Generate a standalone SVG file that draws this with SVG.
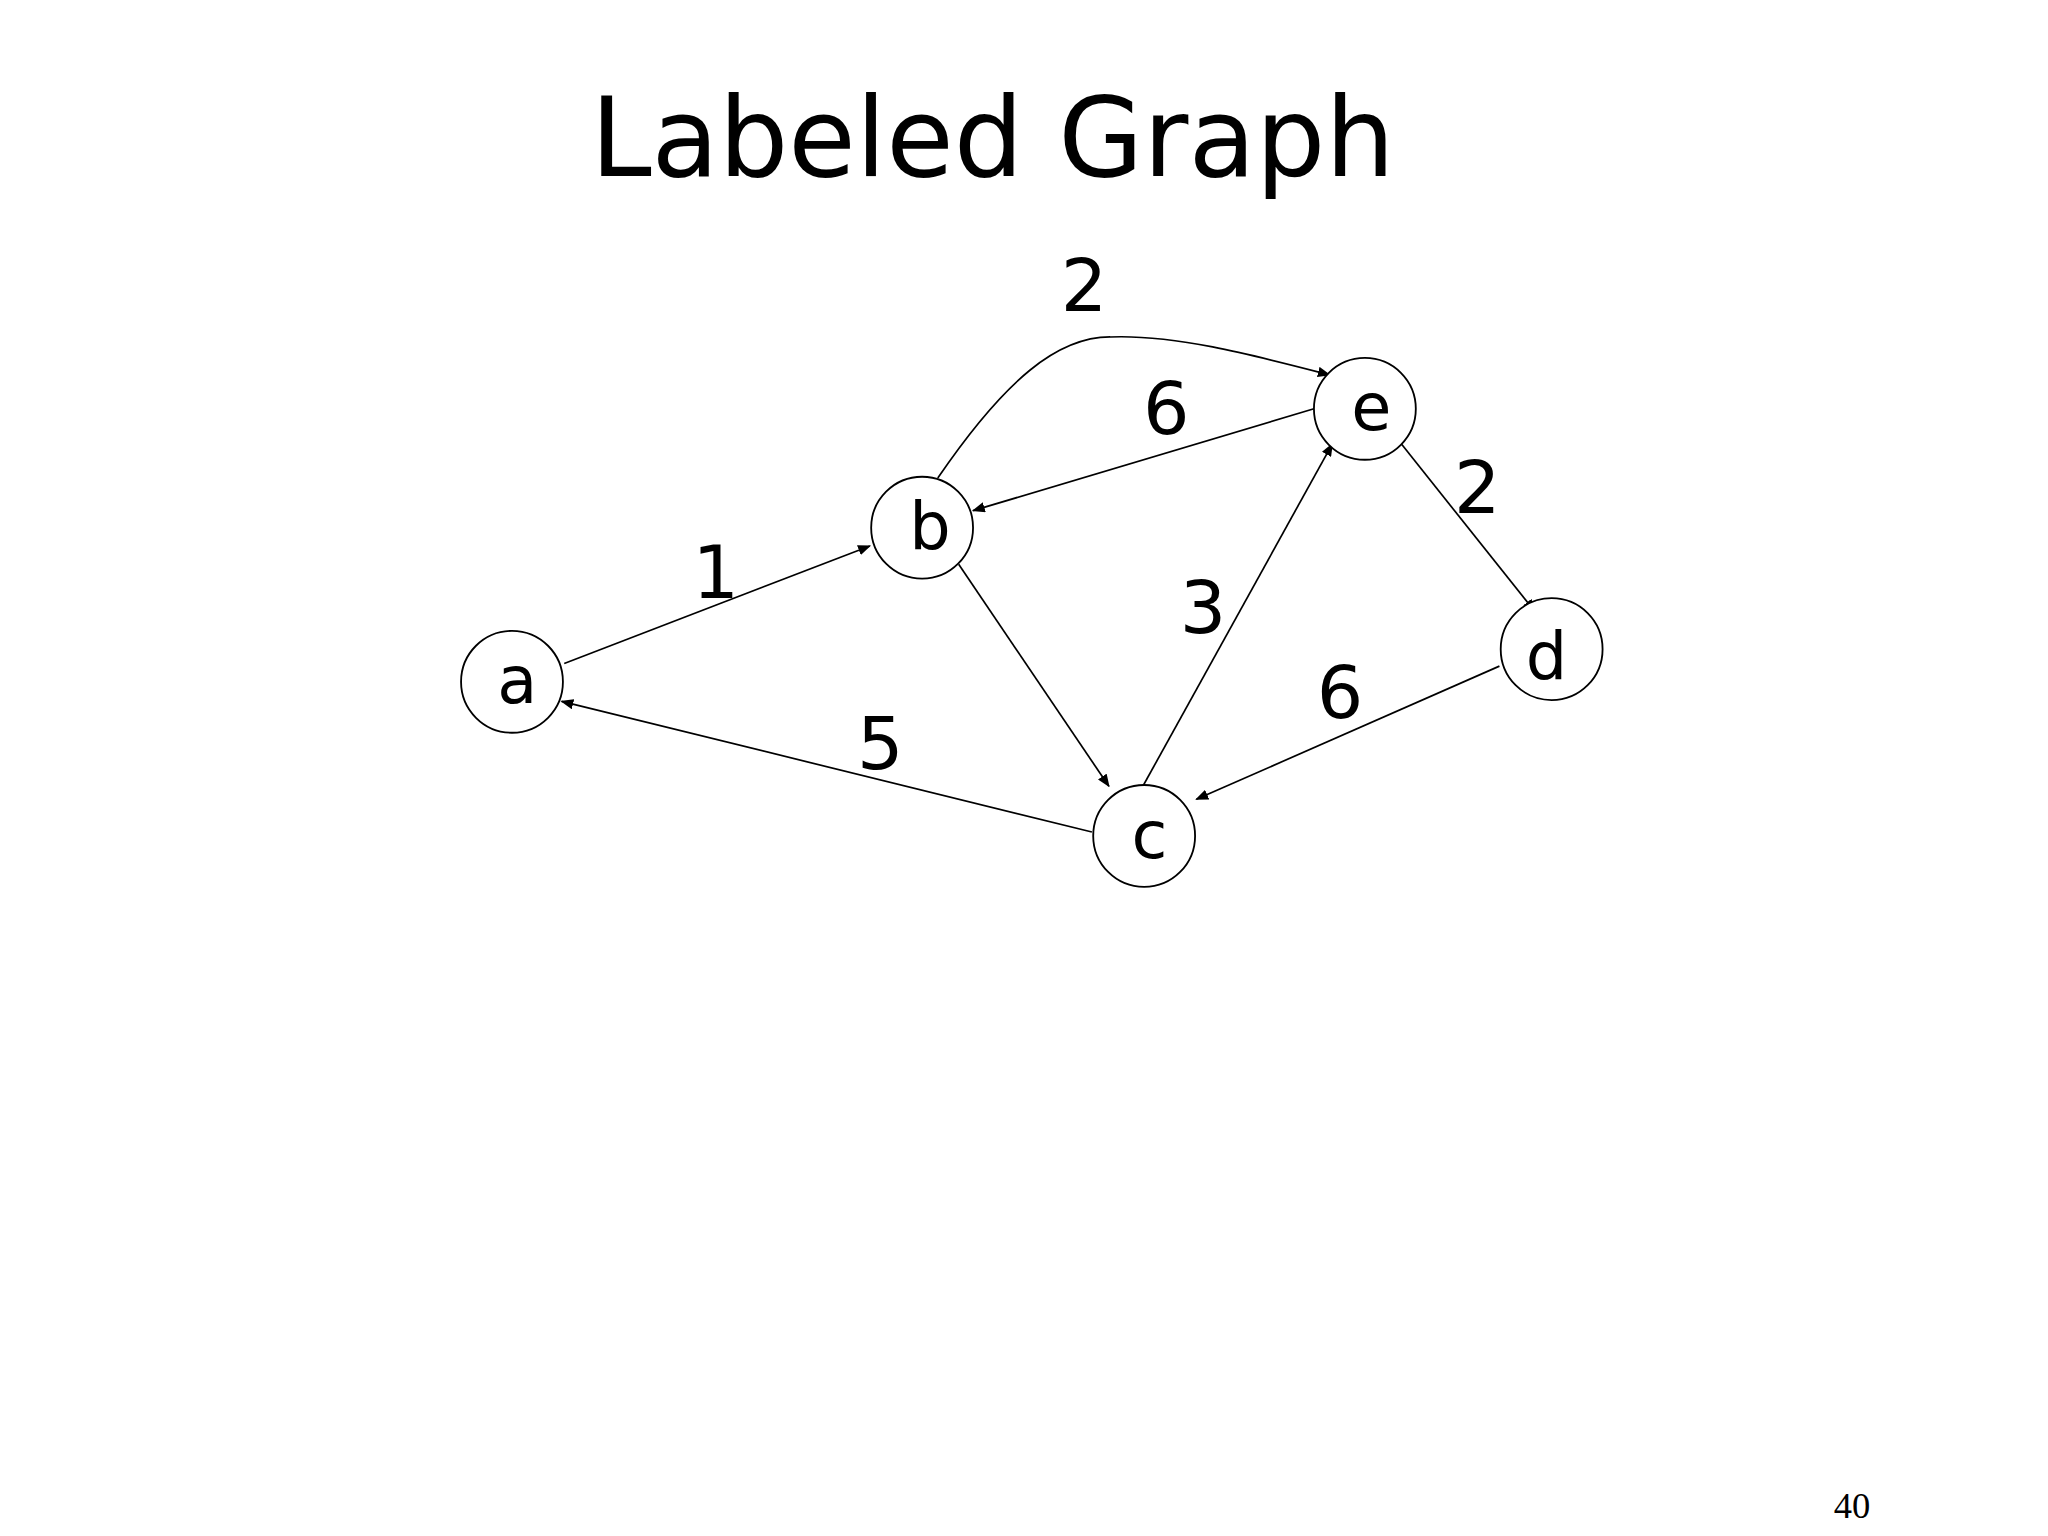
<svg xmlns="http://www.w3.org/2000/svg" width="2048" height="1536" viewBox="0 0 2048 1536">
<defs>
<style>
.n{fill:#fff;stroke:#000;stroke-width:1.4}
.t{font-family:"DejaVu Sans",sans-serif;text-anchor:middle;fill:#000}
.e{fill:none;stroke:#000;stroke-width:1.3}
</style>
<marker id="ar" markerWidth="10" markerHeight="8" refX="9" refY="4" orient="auto" markerUnits="userSpaceOnUse"><path d="M0,0 L10,4 L0,8 z" fill="#000"/></marker>
</defs>
<rect width="2048" height="1536" fill="#fff"/>
<g transform="scale(1.3061)">
<text class="t" x="760" y="135" font-size="84">Labeled Graph</text>
<g id="edges">
<path class="e" marker-end="url(#ar)" d="M432,508 L666,418"/>
<path class="e" marker-end="url(#ar)" d="M1006,313 L745,391"/>
<path class="e" marker-end="url(#ar)" d="M718,366 C770,290 810,258 850,258 C900,256 960,272 1018,287"/>
<path class="e" marker-end="url(#ar)" d="M734,432 L849,602"/>
<path class="e" marker-end="url(#ar)" d="M875,602 L1020,340"/>
<path class="e" marker-end="url(#ar)" d="M1148,510 L916,612"/>
<path class="e" marker-end="url(#ar)" d="M836,637 L430,537"/>
<path class="e" marker-end="url(#ar)" d="M1073,340 L1175,468"/>
<g font-size="56">
<text class="t" x="830" y="238">2</text>
<text class="t" x="893" y="332">6</text>
<text class="t" x="1131" y="393">2</text>
<text class="t" x="548" y="458">1</text>
<text class="t" x="921" y="485">3</text>
<text class="t" x="1026" y="550">6</text>
<text class="t" x="674" y="589">5</text>
</g>
</g>
<g id="a"><circle class="n" cx="392" cy="522" r="39"/><text class="t" x="396" y="538" font-size="50">a</text></g>
<g id="b"><circle class="n" cx="706" cy="404" r="39"/><text class="t" x="712" y="420" font-size="50">b</text></g>
<g id="e"><circle class="n" cx="1045" cy="313" r="39"/><text class="t" x="1050" y="329" font-size="50">e</text></g>
<g id="d"><circle class="n" cx="1188" cy="497" r="39"/><text class="t" x="1184" y="520" font-size="50">d</text></g>
<g id="c"><circle class="n" cx="876" cy="640" r="39"/><text class="t" x="880" y="657" font-size="50">c</text></g>
<text x="1418" y="1162" font-family="Liberation Serif,serif" font-size="28" text-anchor="middle">40</text>
</g>
</svg>
